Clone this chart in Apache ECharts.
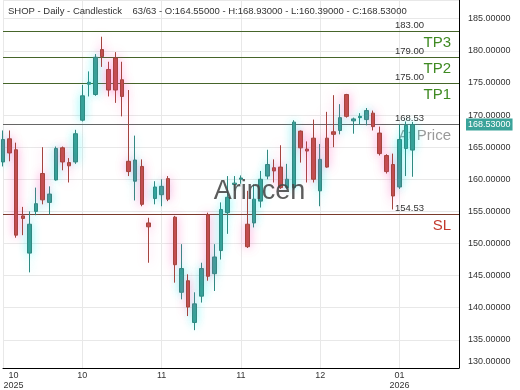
<!DOCTYPE html>
<html><head><meta charset="utf-8">
<script src="https://cdn.jsdelivr.net/npm/echarts@6/dist/echarts.min.js"></script>
<style>html,body{margin:0;padding:0;background:#fff}#c{width:520px;height:390px}</style>
</head><body><div id="c"></div>
<script>
const categories = [
 '2025-10-07','2025-10-08','2025-10-09','2025-10-10','2025-10-13','2025-10-14','2025-10-15','2025-10-16','2025-10-17','2025-10-20',
 '2025-10-21','2025-10-22','2025-10-23','2025-10-24','2025-10-27','2025-10-28','2025-10-29','2025-10-30','2025-10-31',
 '2025-11-03','2025-11-04','2025-11-05','2025-11-06','2025-11-07','2025-11-10','2025-11-11','2025-11-12','2025-11-13','2025-11-14',
 '2025-11-17','2025-11-18','2025-11-19','2025-11-20','2025-11-21','2025-11-24','2025-11-25','2025-11-26','2025-11-28',
 '2025-12-01','2025-12-02','2025-12-03','2025-12-04','2025-12-05','2025-12-08','2025-12-09','2025-12-10','2025-12-11','2025-12-12',
 '2025-12-15','2025-12-16','2025-12-17','2025-12-18','2025-12-19','2025-12-22','2025-12-23','2025-12-24','2025-12-26','2025-12-29',
 '2025-12-30','2025-12-31','2026-01-02','2026-01-05','2026-01-06'
];
const opens  = [162.7,166.3,164.6,154.3,148.5,155.0,160.9,156.4,159.9,164.9,162.6,162.7,169.2,174.8,173.2,180.2,177.1,178.9,175.5,162.8,
                159.7,162.0,153.2,157.0,157.6,160.1,154.1,142.4,144.2,137.7,141.8,154.5,145.3,148.9,154.8,159.2,160.0,153.0,153.2,156.6,
                160.5,161.8,161.9,158.7,158.7,167.5,164.7,166.4,158.2,166.4,167.4,167.6,173.2,169.1,169.6,169.3,170.3,167.2,163.7,162.3,
                158.8,164.8,164.55];
const highs  = [167.6,167.6,165.7,155.7,155.0,158.7,165.0,158.9,165.1,165.1,163.3,167.7,174.7,176.8,179.5,182.2,178.3,179.8,178.3,173.9,
                166.8,163.1,154.0,159.7,160.0,160.5,154.3,149.9,145.2,142.4,147.0,154.8,149.9,156.4,160.5,160.5,160.6,158.2,159.2,161.3,
                164.6,163.1,165.3,162.4,169.2,167.6,165.9,169.3,165.5,170.5,173.1,171.7,173.3,169.6,170.3,171.1,170.7,168.2,163.9,164.0,
                168.5,169.0,168.93];
const lows   = [162.0,162.8,150.9,151.3,145.5,154.4,156.1,154.5,159.8,161.4,159.5,162.4,169.0,172.9,173.0,177.5,172.9,171.9,169.8,160.5,
                156.7,155.8,147.0,156.1,155.8,156.6,143.9,141.3,138.7,136.5,140.8,144.2,142.6,147.5,151.5,158.2,159.3,149.3,152.5,155.6,
                160.0,159.5,158.5,158.5,158.4,162.6,159.5,159.5,155.8,161.8,165.0,167.0,169.6,167.1,168.5,168.4,167.6,163.7,160.9,155.3,
                158.5,160.5,160.39];
const closes = [166.2,164.1,151.3,153.9,153.0,156.2,156.8,157.7,164.8,162.7,162.1,167.1,173.0,175.1,179.0,179.1,173.9,173.9,172.9,161.2,
                163.0,156.1,152.6,158.8,158.9,156.9,146.7,146.1,140.1,140.6,146.1,144.9,147.9,155.3,157.2,159.4,160.2,149.5,156.9,160.0,
                162.3,161.3,158.7,160.0,168.9,164.9,164.4,160.0,163.1,161.9,167.0,169.6,169.8,169.4,169.8,170.7,168.2,164.0,161.2,157.4,
                166.2,168.4,168.53];
const levelValues = [183.00, 179.00, 175.00, 168.53, 154.53];
const levelNames  = ['TP3', 'TP2', 'TP1', 'At Price', 'SL'];
const lastPrice = 168.53;
const symbol = 'SHOP';

const FONT = 'Liberation Sans, Arial, sans-serif';
const N = categories.length;
const PAD = 7;
const xCats = categories.concat(Array.from({length: PAD}, (_, k) => 'pad' + k));
const yMin = 130.61, yMax = 187.92;

const EMPTY = ['-', '-', '-', '-'];
const upData = categories.map((_, i) => closes[i] >= opens[i] ? [opens[i], closes[i], lows[i], highs[i]] : EMPTY);
const downData = categories.map((_, i) => closes[i] < opens[i] ? [opens[i], closes[i], lows[i], highs[i]] : EMPTY);

const lineColors = ['#46652a', '#46652a', '#46652a', '#666666', '#7a3b2c'];
const nameColors = ['#3f8a22', '#3f8a22', '#3f8a22', '#9a9a9a', '#c23a2e'];
const markData = [];
levelValues.forEach((v, k) => {
  markData.push({ yAxis: v, lineStyle: { color: lineColors[k], width: 1, type: 'solid' },
    label: { show: true, position: 'insideEndTop', formatter: v.toFixed(2), fontSize: 9.5, color: '#333',
             fontFamily: FONT, distance: 1, padding: [0, 34, 0, 0] } });
  markData.push({ yAxis: v, lineStyle: { color: lineColors[k], width: 1, type: 'solid' },
    label: { show: true, position: 'insideEndBottom', formatter: levelNames[k], fontSize: 15, color: nameColors[k],
             fontFamily: FONT, distance: 4, padding: [0, 4, 0, 0] } });
});
markData.push({ yAxis: lastPrice, lineStyle: { color: '#666666', width: 1, type: 'solid' },
  label: { show: true, position: 'end', formatter: lastPrice.toFixed(5), fontSize: 9, color: '#fff',
           backgroundColor: '#3aa39a', padding: [2, 2, 1, 2], distance: 7, fontFamily: FONT } });

const o = opens[N-1], h = highs[N-1], l = lows[N-1], c = closes[N-1];
const titleText = symbol + ' - Daily - Candlestick    ' + N + '/' + N + ' - O:' + o.toFixed(5) +
  ' - H:' + h.toFixed(5) + ' - L:' + l.toFixed(5) + ' - C:' + c.toFixed(5);

const UP = '#3a9c93', UPB = '#2f8a82', DN = '#bf4d47', DNB = '#a3443e';
const candleBase = { type: 'candlestick', barWidth: 4, clip: false, z: 3 };

const chart = echarts.init(document.getElementById('c'), null, { renderer: 'canvas' });
chart.setOption({
  animation: false,
  backgroundColor: '#ffffff',
  textStyle: { fontFamily: FONT },
  title: { text: titleText, left: 8, top: 6, padding: 0,
           textStyle: { fontSize: 9.5, fontWeight: 'normal', color: '#333', fontFamily: FONT } },
  grid: { left: 3, right: 61, top: 0, bottom: 21, containLabel: false },
  xAxis: {
    type: 'category', data: xCats, boundaryGap: false,
    axisLine: { show: true, lineStyle: { color: '#000', width: 1 } },
    axisTick: { show: false },
    splitLine: { show: true, interval: 11, lineStyle: { color: '#e8e8e8', width: 1 } },
    axisLabel: {
      interval: 11, fontSize: 9, color: '#333', margin: 3, lineHeight: 9.5, fontFamily: FONT,
      alignMinLabel: 'left',
      formatter: (val, idx) => {
        if (idx >= N) return '';
        const [y, m] = val.split('-');
        if (idx === 0) return '{f|' + m + '}\n{f|' + y + '}';
        if (m === '01') return m + '\n' + y;
        return m;
      },
      rich: { f: { width: 21, align: 'center', fontSize: 9, lineHeight: 9.5, color: '#333' } }
    }
  },
  yAxis: {
    type: 'value', position: 'right', min: yMin, max: yMax, splitNumber: 11, minInterval: 5, maxInterval: 5,
    axisLine: { show: true, lineStyle: { color: '#000', width: 1 } },
    axisTick: { show: false },
    splitLine: { show: true, lineStyle: { color: '#e8e8e8', width: 1 } },
    axisLabel: {
      fontSize: 9, color: '#333', margin: 9, fontFamily: FONT,
      formatter: (v) => {
        if (Math.abs(v - yMin) < 1e-6) return '{m|' + (Math.floor(v / 5) * 5).toFixed(5) + '}';
        if (Math.abs(v / 5 - Math.round(v / 5)) < 1e-6) return v.toFixed(5);
        return '';
      },
      rich: { m: { padding: [0, 0, 12, 0], fontSize: 9, color: '#333' } }
    }
  },
  series: [
    Object.assign({}, candleBase, {
      name: 'up', data: upData,
      itemStyle: { color: UP, color0: UP, borderColor: UPB, borderColor0: UPB, borderWidth: 1,
                   shadowBlur: 10, shadowColor: 'rgba(0,240,240,0.45)' },
      markLine: { silent: true, symbol: ['none', 'none'], z: 1, animation: false, data: markData }
    }),
    Object.assign({}, candleBase, {
      name: 'down', data: downData,
      itemStyle: { color: DN, color0: DN, borderColor: DNB, borderColor0: DNB, borderWidth: 1,
                   shadowBlur: 10, shadowColor: 'rgba(255,90,190,0.5)' }
    })
  ],
  graphic: [{
    type: 'text', x: 259.5, y: 192, z: 100, silent: true,
    style: { text: 'Arincen', align: 'center', verticalAlign: 'middle', fontSize: 27, fontFamily: FONT, fill: 'rgba(70,70,70,0.88)' }
  }]
});
</script></body></html>
